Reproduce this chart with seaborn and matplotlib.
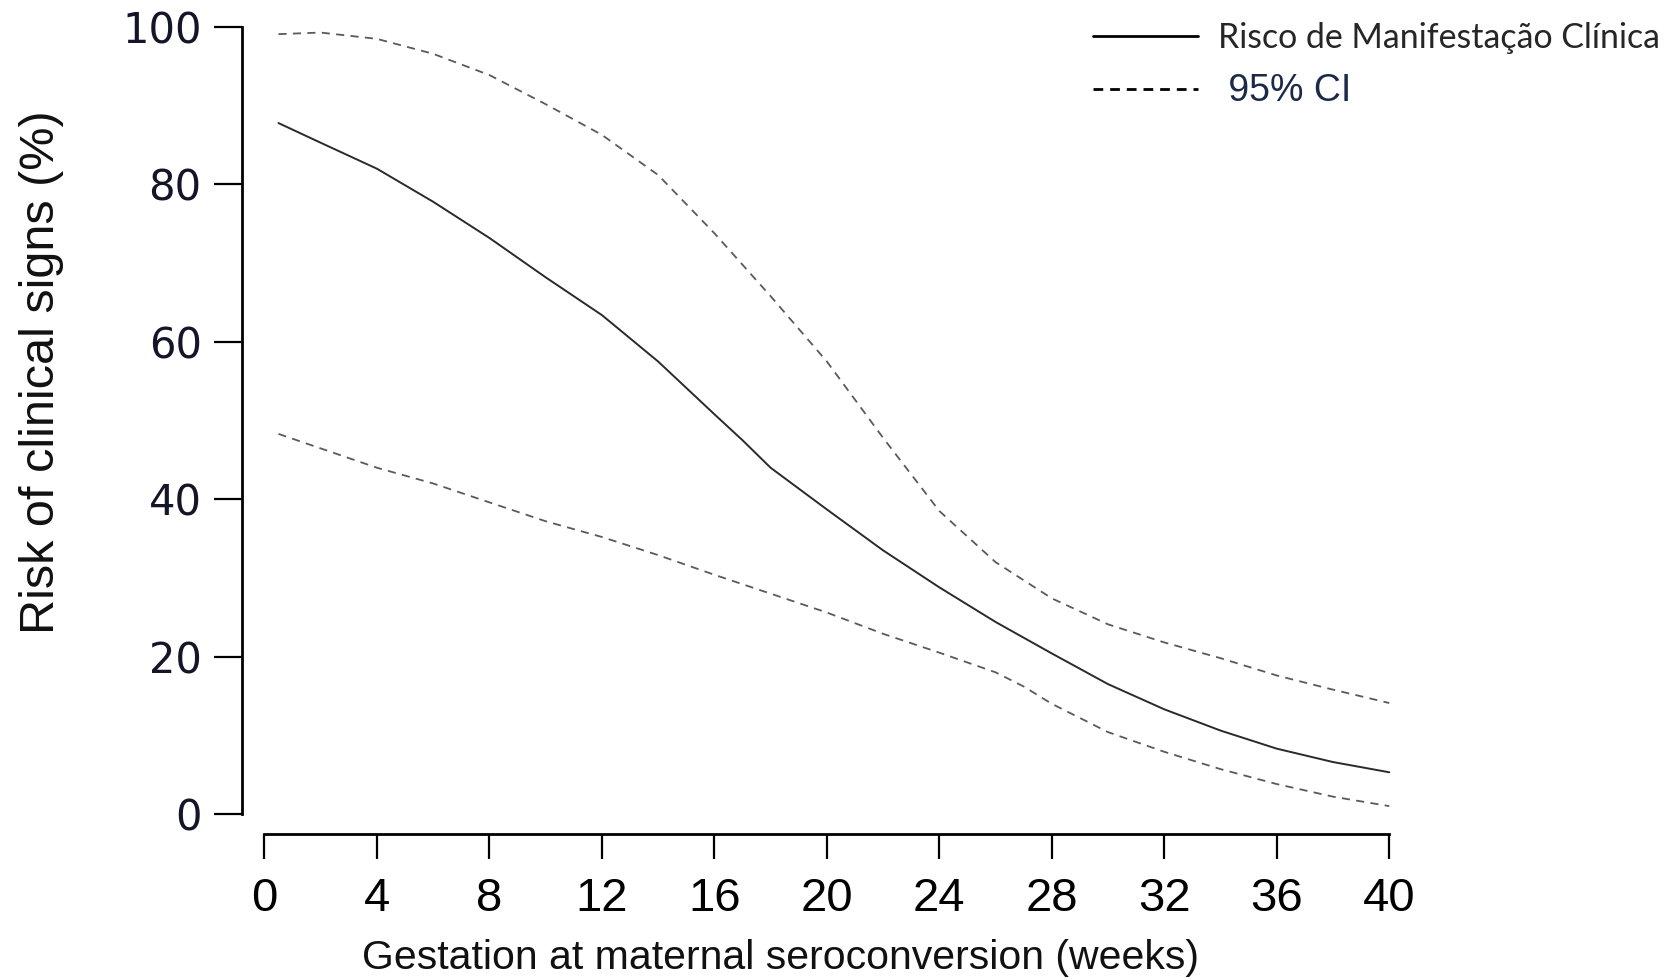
import matplotlib
matplotlib.use('Agg')
import matplotlib.pyplot as plt
import seaborn as sns
from matplotlib.lines import Line2D

# values (weeks, % risk)
weeks_mid = [0.5, 2, 4, 6, 8, 10, 12, 14, 16, 17, 18, 20, 22, 24, 26, 28, 30, 32, 34, 36, 38, 40]
risk_mid = [87.8, 85.3, 82.0, 77.8, 73.2, 68.2, 63.4, 57.5, 50.8, 47.5, 44.0, 38.7, 33.5,
            28.8, 24.4, 20.4, 16.5, 13.3, 10.6, 8.3, 6.6, 5.3]

weeks_up = [0.5, 2, 4, 6, 8, 10, 12, 14, 16, 18, 20, 22, 24, 26, 28, 30, 32, 34, 36, 38, 40]
risk_up = [99.1, 99.3, 98.5, 96.6, 93.9, 90.2, 86.3, 81.2, 73.8, 65.8, 57.5, 47.8, 38.5,
           32.0, 27.4, 24.1, 21.8, 19.8, 17.6, 15.8, 14.1]

weeks_lo = [0.5, 4, 6, 8, 10, 12, 14, 16, 18, 20, 22, 24, 26, 27, 28, 30, 32, 34, 36, 38, 40]
risk_lo = [48.3, 44.0, 42.0, 39.6, 37.2, 35.2, 32.9, 30.4, 28.0, 25.6, 22.9, 20.5, 18.0,
           16.2, 14.0, 10.4, 7.9, 5.7, 3.8, 2.2, 1.0]

x_ticks = [0, 4, 8, 12, 16, 20, 24, 28, 32, 36, 40]
y_ticks = [0, 20, 40, 60, 80, 100]

sns.set_theme(style='ticks')
plt.rcParams['font.family'] = ['DejaVu Sans']

fig = plt.figure(figsize=(16.8, 9.8), dpi=100)
ax = fig.add_axes([0.144, 0.1694, 0.6863, 0.803])

sns.lineplot(x=weeks_mid, y=risk_mid, ax=ax, color='#2a2a2a', linewidth=1.4)
sns.lineplot(x=weeks_up, y=risk_up, ax=ax, color='#5a5a5a', linewidth=1.3, linestyle=(0, (4.5, 3.5)))
sns.lineplot(x=weeks_lo, y=risk_lo, ax=ax, color='#5a5a5a', linewidth=1.3, linestyle=(0, (4.5, 3.5)))

ax.set_xlim(-0.8, 40.2)
ax.set_ylim(0, 100)
ax.set_xticks(x_ticks)
ax.set_yticks(y_ticks)

sns.despine(ax=ax)
ax.spines['left'].set_bounds(0, 100)
ax.spines['left'].set_linewidth(2)
ax.spines['bottom'].set_bounds(0, 40)
ax.spines['bottom'].set_position(('outward', 14.4))
ax.spines['bottom'].set_linewidth(2)
for s in ('left', 'bottom'):
    ax.spines[s].set_color('black')

ax.tick_params(axis='y', direction='out', length=20, width=1.6, pad=9,
               labelsize=30, labelcolor='#15152a', color='black')
ax.tick_params(axis='x', direction='out', length=18, width=1.6, pad=13,
               labelsize=34, labelcolor='black', color='black')
for lab in ax.get_xticklabels():
    lab.set_fontfamily('Liberation Sans')

ax.set_xlabel('Gestation at maternal seroconversion (weeks)', family='Liberation Sans',
              fontsize=29.5, color='#111111')
ax.xaxis.set_label_coords(0.4675, -0.159)
ax.xaxis.label.set_va('top')

ax.set_ylabel('Risk of clinical signs (%)', family='Liberation Sans', fontsize=35, color='#111111')
ax.yaxis.set_label_coords(-0.174, 0.5616)
ax.yaxis.label.set_va('center')

handles = [Line2D([], [], color='black', linewidth=2),
           Line2D([], [], color='black', linewidth=2, linestyle=(0, (3.5, 2.5)))]
leg = fig.legend(handles, ['Risco de Manifestação Clínica', ' 95% CI'],
                 loc='upper left', bbox_to_anchor=(1093 / 1680, 1 - 22 / 980),
                 frameon=False, borderpad=0, borderaxespad=0, handlelength=3.1,
                 handletextpad=0.6, labelspacing=0.55, prop={'family': 'Lato', 'size': 24.4})
leg.get_texts()[1].set_fontfamily('Liberation Sans')
leg.get_texts()[1].set_fontsize(27)
leg.get_texts()[1].set_color('#1c2a4a')

fig.savefig('out.png', dpi=100)
